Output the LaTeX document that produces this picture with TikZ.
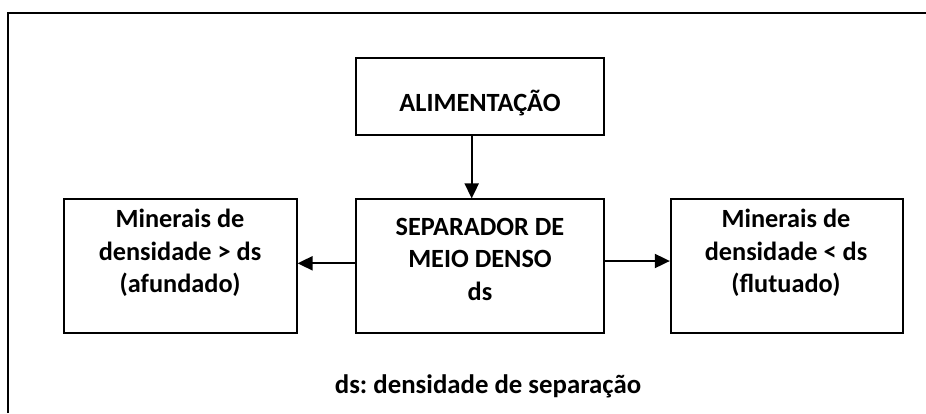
\documentclass[tikz,border=0pt]{standalone}
\usepackage{fontspec}
\setmainfont{Carlito}
\frenchspacing
\usetikzlibrary{arrows.meta,calc}
\tikzset{
  box/.style={draw, line width=1.7pt, rectangle, inner sep=0pt},
  lbl/.style={font=\bfseries\fontsize{26.3}{32.5}\selectfont, align=center, inner sep=0pt},
  arr/.style={line width=1.9pt, -{Triangle[length=15pt,width=14pt]}},
  frame/.style={line width=2.2pt}
}
\begin{document}
\begin{tikzpicture}[x=1pt,y=-1pt]
\fill[white] (0,0) rectangle (926,413);
\useasboundingbox (0,0) rectangle (926,413);
\coordinate (fbl) at (7.7,413);
\coordinate (ftl) at (7.7,13.3);
\coordinate (ftr) at (940,13.3);
\begin{scope}
\clip (0,0) rectangle (926,413);
\draw[frame] (fbl) -- (ftl) -- (ftr);
\end{scope}
% boxes
\node[box, minimum width=248pt, minimum height=76.7pt] (alim) at (480,96.65) {};
\node[box, minimum width=248pt, minimum height=134pt] (sep) at (480,266.3) {};
\node[box, minimum width=232.7pt, minimum height=134pt] (left) at (180.35,266.3) {};
\node[box, minimum width=232.6pt, minimum height=134pt] (right) at (787,266.3) {};
% texts
\node[lbl, anchor=base] (talim) at (480,111) {ALIMENTAÇÃO};
\node[lbl, anchor=base] (tsep) at (480,300) {SEPARADOR DE\\MEIO DENSO\\ds};
\node[lbl, anchor=base] (tleft) at (180,292.5) {Minerais de\\densidade > ds\\(afundado)};
\node[lbl, anchor=base] (tright) at (786,292.5) {Minerais de\\densidade < ds\\(flutuado)};
\node[lbl, anchor=base, font=\bfseries\fontsize{26.8}{32}\selectfont] (legend) at (488,393) {ds: densidade de separação};
% connectors
\draw[arr] ([xshift=-8.3pt]alim.south) -- ([xshift=-8.3pt]sep.north);
\draw[arr] ([yshift=3pt]sep.west) -- ([yshift=3pt]left.east);
\draw[arr] ([yshift=5.3pt]sep.east) -- ([yshift=5.3pt]right.west);
\end{tikzpicture}
\end{document}
